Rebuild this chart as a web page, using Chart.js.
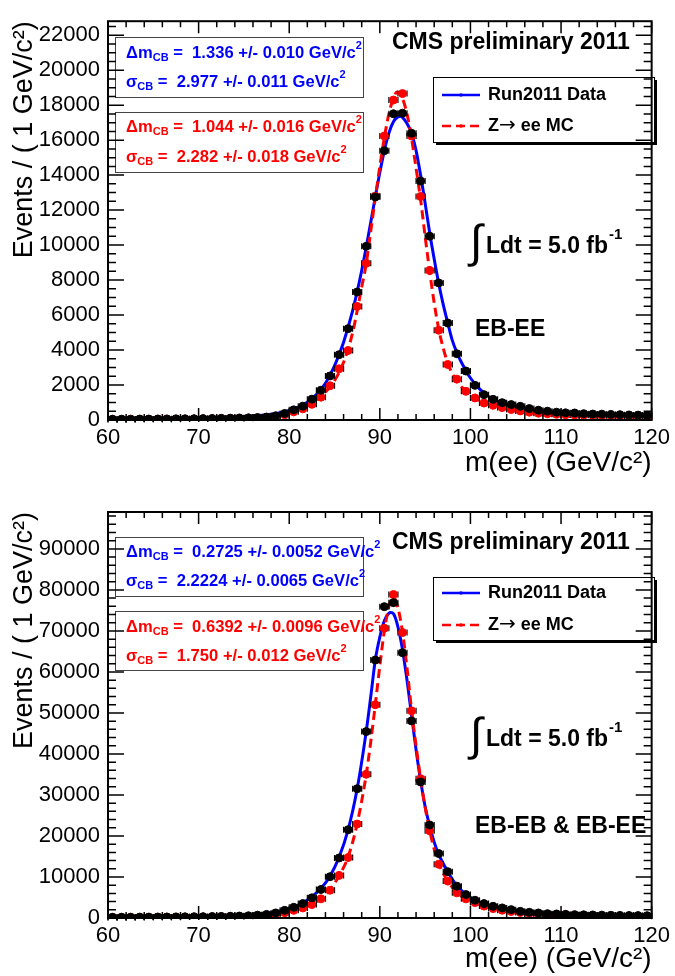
<!DOCTYPE html>
<html>
<head>
<meta charset="utf-8">
<script src="https://cdn.jsdelivr.net/npm/chart.js@4.4.0/dist/chart.umd.min.js"></script>
<style>
  html, body { margin: 0; padding: 0; background: #fff; }
  .panel { position: absolute; left: 0; width: 675px; height: 488px; }
  #top { top: 0; }
  #bottom { top: 488px; }
</style>
</head>
<body>
<div class="panel" id="top"><canvas id="chartEBEE" width="675" height="488"></canvas></div>
<div class="panel" id="bottom"><canvas id="chartAll" width="675" height="488"></canvas></div>
<script>
/*
 * data (1 GeV bins)
 */
const massBins = [
	60.5, 61.5, 62.5, 63.5, 64.5, 65.5, 66.5, 67.5, 68.5, 69.5,
	70.5, 71.5, 72.5, 73.5, 74.5, 75.5, 76.5, 77.5, 78.5, 79.5,
	80.5, 81.5, 82.5, 83.5, 84.5, 85.5, 86.5, 87.5, 88.5, 89.5,
	90.5, 91.5, 92.5, 93.5, 94.5, 95.5, 96.5, 97.5, 98.5, 99.5,
	100.5, 101.5, 102.5, 103.5, 104.5, 105.5, 106.5, 107.5, 108.5, 109.5,
	110.5, 111.5, 112.5, 113.5, 114.5, 115.5, 116.5, 117.5, 118.5, 119.5
];
const xTickValues = [60, 70, 80, 90, 100, 110, 120];

// EB-EE
const ebeeData = [
	45, 48, 50, 52, 55, 58, 62, 66, 70, 75,
	80, 88, 95, 105, 115, 125, 140, 168, 240, 375,
	580, 790, 1190, 1700, 2520, 3734, 5224, 7318, 9927, 12749,
	15397, 17508, 17542, 16389, 13662, 10510, 7839, 5543, 3790, 2800,
	1980, 1450, 1180, 990, 880, 780, 653, 560, 504, 448,
	410, 400, 360, 340, 335, 320, 305, 290, 280, 270
];
const ebeeMC = [
	30, 32, 34, 36, 38, 41, 44, 48, 52, 57,
	62, 68, 75, 83, 92, 105, 120, 150, 210, 300,
	465, 640, 896, 1306, 1960, 2929, 3975, 6495, 8958, 12800,
	16237, 18292, 18662, 16237, 12783, 8550, 5134, 3175, 2335, 1640,
	1260, 970, 840, 710, 600, 520, 450, 390, 360, 330,
	300, 290, 280, 270, 260, 250, 240, 230, 225, 220
];
const ebeeFitDataX = [60, 64, 68, 72, 75, 77, 78, 79, 80, 81, 82, 83, 84, 85, 86, 87, 88, 89, 89.5, 90, 90.5, 91, 91.5, 92, 92.3, 92.5, 93, 93.5, 94, 94.5, 95, 95.5, 96, 96.5, 97, 97.5, 98, 98.5, 99, 100, 101, 102, 103, 104, 106, 108, 110, 113, 116, 120];
const ebeeFitDataY = [60, 75, 100, 140, 200, 270, 330, 420, 550, 730, 1020, 1450, 2100, 3100, 4450, 6250, 8550, 11300, 12750, 14150, 15400, 16400, 17050, 17330, 17360, 17300, 16950, 16400, 15400, 14000, 12400, 10700, 9200, 7800, 6600, 5550, 4550, 3850, 3300, 2400, 1780, 1350, 1060, 850, 600, 460, 380, 300, 240, 190];
const ebeeFitMCX = [60, 64, 68, 72, 75, 77, 78, 79, 80, 81, 82, 83, 84, 85, 86, 87, 88, 88.5, 89, 89.5, 90, 90.5, 91, 91.5, 91.9, 92.3, 92.5, 93, 93.5, 94, 94.5, 95, 95.5, 96, 96.5, 97, 97.5, 98, 98.5, 99, 99.5, 100.5, 101.5, 102.5, 104, 106, 108, 110, 113, 116, 120];
const ebeeFitMCY = [45, 55, 75, 105, 150, 200, 245, 310, 420, 580, 810, 1150, 1600, 2250, 3300, 5000, 7600, 8950, 10800, 12700, 14500, 16150, 17500, 18400, 18750, 18600, 18400, 17500, 16100, 14400, 12600, 10500, 8500, 6700, 5200, 4100, 3250, 2650, 2250, 1900, 1650, 1260, 1000, 820, 640, 500, 400, 330, 270, 220, 180];
const ebeeYTicks = [0, 2000, 4000, 6000, 8000, 10000, 12000, 14000, 16000, 18000, 20000, 22000];

// EB-EB & EB-EE
const allData = [
	180, 190, 200, 210, 220, 235, 250, 265, 285, 305,
	330, 355, 385, 420, 470, 540, 700, 880, 1230, 1870,
	2600, 3510, 4910, 6950, 10070, 14640, 21520, 31520, 45450, 62900,
	75920, 76900, 64690, 48060, 33170, 22680, 15720, 11300, 7770, 5720,
	4330, 3510, 2850, 2460, 2040, 1620, 1380, 1230, 1060, 980,
	900, 820, 780, 740, 700, 660, 630, 600, 580, 560
];
const allMC = [
	130, 138, 146, 155, 165, 176, 188, 200, 215, 230,
	250, 270, 295, 325, 360, 410, 520, 650, 900, 1300,
	1870, 2460, 3270, 4670, 6780, 10390, 14740, 22920, 35040, 52000,
	70660, 78870, 69600, 50520, 33980, 21280, 13100, 9000, 6140, 4670,
	3760, 2900, 2300, 1900, 1600, 1350, 1150, 1000, 880, 800,
	740, 690, 640, 600, 570, 540, 510, 490, 470, 450
];
const allFitDataX = [60, 65, 70, 74, 76, 77.5, 78.5, 79.5, 80.5, 81.5, 82.5, 83.5, 84.5, 85.5, 86.5, 87.5, 88.5, 89, 89.5, 90, 90.5, 91, 91.2, 91.5, 92, 92.5, 93, 93.5, 94, 94.5, 95, 95.5, 96, 96.5, 97.5, 98.5, 99.5, 100.5, 101.5, 102.5, 104, 106, 108, 110, 113, 116, 120];
const allFitDataY = [160, 220, 330, 550, 800, 1150, 1500, 2000, 2700, 3700, 5200, 7200, 10200, 14800, 21500, 31500, 45500, 54000, 62900, 68500, 72500, 74300, 74500, 74200, 71000, 65500, 58000, 49500, 41000, 33500, 27200, 22500, 18500, 15500, 11300, 7900, 5800, 4400, 3500, 2850, 2150, 1550, 1200, 950, 720, 580, 450];
const allFitMCX = [60, 65, 70, 74, 76, 77.5, 78.5, 79.5, 80.5, 81.5, 82.5, 83.5, 84.5, 85.5, 86.5, 87.5, 88.5, 89, 89.5, 90, 90.5, 91, 91.4, 91.8, 92.5, 93, 93.5, 94, 94.5, 95, 95.5, 96, 96.5, 97.5, 98.5, 99.5, 100.5, 101.5, 102.5, 104, 106, 108, 110, 113, 116, 120];
const allFitMCY = [120, 170, 250, 360, 480, 650, 900, 1300, 1870, 2500, 3350, 4750, 6900, 10300, 14900, 23000, 35000, 43000, 52000, 61500, 70000, 76000, 78000, 77200, 69800, 61000, 50800, 42000, 34000, 27000, 21300, 16800, 13300, 9000, 6200, 4700, 3750, 2950, 2350, 1800, 1300, 1000, 800, 620, 520, 430];
const allYTicks = [0, 10000, 20000, 30000, 40000, 50000, 60000, 70000, 80000, 90000];

const FONT = '"Liberation Sans", Arial, Helvetica, sans-serif';
Chart.defaults.font.family = FONT;
Chart.defaults.color = '#000';

const toPoints = (xs, ys) => xs.map((x, i) => ({ x: x, y: ys[i] }));

// 텍스트 + 첨자 (sub / sup), 화살표는 다른 폰트
function richText(ctx, parts, x, y, size) {
	let cx = x;
	parts.forEach(p => {
		const fs = (p.sub || p.sup) ? Math.round(size * 0.65) : size;
		ctx.font = p.arrow ? (size + 2) + 'px "DejaVu Sans", sans-serif' : 'bold ' + fs + 'px ' + FONT;
		const dy = p.sub ? size * 0.32 : (p.sup ? -size * 0.4 : 0);
		ctx.fillText(p.t, cx, y + dy);
		cx += ctx.measureText(p.t).width;
	});
	return cx;
}

/*
 * bin width error bars, drawn under each marker set
 */
const errorBars = {
	id: 'errorBars',
	beforeDatasetDraw(chart, args) {
		const ds = chart.data.datasets[args.index];
		if (!ds.binWidth) return;
		const xs = chart.scales.x, ys = chart.scales.y, ctx = chart.ctx;
		ctx.save();
		ctx.strokeStyle = '#000';
		ctx.lineWidth = 1.2;
		ds.data.forEach(p => {
			const x1 = xs.getPixelForValue(p.x - ds.binWidth / 2);
			const x2 = xs.getPixelForValue(p.x + ds.binWidth / 2);
			const y = ys.getPixelForValue(p.y);
			ctx.beginPath();
			ctx.moveTo(x1, y); ctx.lineTo(x2, y);
			ctx.moveTo(x1, y - 3); ctx.lineTo(x1, y + 3);
			ctx.moveTo(x2, y - 3); ctx.lineTo(x2, y + 3);
			ctx.stroke();
		});
		ctx.restore();
	}
};

/*
 * fit boxes, legend, labels
 */
const rootText = {
	id: 'rootText',
	afterDatasetsDraw(chart, args, o) {
		const ctx = chart.ctx;
		ctx.save();
		ctx.textBaseline = 'middle';
		ctx.textAlign = 'left';

		o.boxes.forEach(b => {
			ctx.fillStyle = '#fff';
			ctx.fillRect(b.x, b.y, b.w, b.h);
			ctx.strokeStyle = '#444';
			ctx.lineWidth = 1;
			ctx.strokeRect(b.x + 0.5, b.y + 0.5, b.w, b.h);
			ctx.fillStyle = b.color;
			b.lines.forEach((l, i) => richText(ctx, l, b.x + 11, b.rows[i], 16.6));
		});

		ctx.fillStyle = '#000';
		ctx.font = 'bold 23px ' + FONT;
		ctx.fillText('CMS preliminary 2011', 392, o.cmsY);

		// legend
		const L = o.legend;
		ctx.fillStyle = '#000';
		ctx.fillRect(L.x + 3, L.y + 3, L.w, L.h);
		ctx.fillStyle = '#fff';
		ctx.fillRect(L.x, L.y, L.w, L.h);
		ctx.strokeStyle = '#000';
		ctx.lineWidth = 1;
		ctx.strokeRect(L.x + 0.5, L.y + 0.5, L.w, L.h);
		chart.data.datasets.filter(d => d.legendRow !== undefined).forEach(d => {
			const y = L.rows[d.legendRow];
			ctx.strokeStyle = d.borderColor;
			ctx.lineWidth = 2.5;
			ctx.setLineDash(d.borderDash || []);
			ctx.beginPath();
			ctx.moveTo(L.x + 9, y);
			ctx.lineTo(L.x + 47, y);
			ctx.stroke();
			ctx.setLineDash([]);
			ctx.fillStyle = d.borderColor;
			ctx.beginPath();
			ctx.arc(L.x + 28, y, 1.8, 0, Math.PI * 2);
			ctx.fill();
			ctx.fillStyle = '#000';
			richText(ctx, d.legendParts, L.x + 55, y, 18);
		});

		// luminosity
		ctx.fillStyle = '#000';
		ctx.font = '46px ' + FONT;
		ctx.fillText('\u222B', 470, o.lumiY - 1);
		const end = richText(ctx, [{ t: 'Ldt = 5.0 fb' }], 486, o.lumiY + 2, 23);
		ctx.font = 'bold 15px ' + FONT;
		ctx.fillText('-1', end + 1, o.lumiY - 10);

		ctx.font = 'bold 23px ' + FONT;
		ctx.fillText(o.region, 475, o.regionY);
		ctx.restore();
	}
};

/*
 * ROOT style frame with inner ticks
 */
const rootFrame = {
	id: 'rootFrame',
	afterDatasetsDraw(chart, args, o) {
		const { ctx, chartArea: a, scales: { x, y } } = chart;
		ctx.save();
		ctx.strokeStyle = '#000';
		ctx.lineWidth = 1.5;
		ctx.beginPath();
		for (let v = 60; v <= 120; v += 2) {
			const px = x.getPixelForValue(v);
			const len = v % 10 === 0 ? 12 : 6;
			ctx.moveTo(px, a.bottom); ctx.lineTo(px, a.bottom - len);
			ctx.moveTo(px, a.top); ctx.lineTo(px, a.top + len);
		}
		for (let v = 0; v <= y.max; v += o.yMinor) {
			const py = y.getPixelForValue(v);
			const len = v % o.yMajor === 0 ? 16 : 8;
			ctx.moveTo(a.left, py); ctx.lineTo(a.left + len, py);
			ctx.moveTo(a.right, py); ctx.lineTo(a.right - len, py);
		}
		ctx.stroke();
		ctx.lineWidth = 2;
		ctx.strokeRect(a.left, a.top, a.right - a.left, a.bottom - a.top);
		ctx.restore();
	}
};

function makeChart(id, p) {
	return new Chart(document.getElementById(id), {
		type: 'scatter',
		data: {
			datasets: [{
				data: toPoints(massBins, p.data),
				pointRadius: 4,
				pointBackgroundColor: '#000',
				pointBorderColor: '#000',
				binWidth: 1,
				order: 1
			}, {
				data: toPoints(massBins, p.mc),
				pointRadius: 4,
				pointBackgroundColor: '#ff0000',
				pointBorderColor: '#ff0000',
				binWidth: 1,
				order: 2
			}, {
				label: 'Z\u2192 ee MC',
				legendRow: 1,
				legendParts: [{ t: 'Z' }, { t: '\u2192', arrow: true }, { t: ' ee MC' }],
				data: toPoints(p.fitMCX, p.fitMCY),
				showLine: true,
				borderColor: '#ff0000',
				borderDash: [9, 5],
				borderWidth: 3,
				pointRadius: 0,
				cubicInterpolationMode: 'monotone',
				order: 3
			}, {
				label: 'Run2011 Data',
				legendRow: 0,
				legendParts: [{ t: 'Run2011 Data' }],
				data: toPoints(p.fitDataX, p.fitDataY),
				showLine: true,
				borderColor: '#0000ff',
				borderWidth: 3,
				pointRadius: 0,
				cubicInterpolationMode: 'monotone',
				order: 4
			}]
		},
		options: {
			responsive: false,
			animation: false,
			events: [],
			layout: { padding: { top: p.padTop, right: 21, left: 0, bottom: 0 } },
			plugins: {
				legend: { display: false },
				tooltip: { enabled: false },
				rootText: p.text,
				rootFrame: { yMajor: p.yMajor, yMinor: p.yMinor }
			},
			scales: {
				x: {
					type: 'linear',
					min: 60,
					max: 120,
					afterBuildTicks: s => { s.ticks = xTickValues.map(v => ({ value: v })); },
					afterFit: s => { s.height = p.xHeight; },
					grid: { display: false, drawTicks: false },
					border: { display: false },
					ticks: { font: { size: 22 }, color: '#000', padding: 5, maxRotation: 0, autoSkip: false, callback: v => String(v) },
					title: {
						display: true,
						text: 'm(ee) (GeV/c\u00B2)',
						align: 'end',
						color: '#000',
						font: { size: 28 },
						padding: { top: 0, bottom: p.xTitlePad }
					}
				},
				y: {
					min: 0,
					max: p.yMax,
					afterBuildTicks: s => { s.ticks = p.yTicks.map(v => ({ value: v })); },
					afterFit: s => { s.width = 108; },
					grid: { display: false, drawTicks: false },
					border: { display: false },
					ticks: { font: { size: 22 }, color: '#000', padding: 8, callback: v => String(v) },
					title: {
						display: true,
						text: 'Events / ( 1 GeV/c\u00B2)',
						align: 'end',
						color: '#000',
						font: { size: 27 },
						padding: { top: 8, bottom: 0 }
					}
				}
			}
		},
		plugins: [errorBars, rootText, rootFrame]
	});
}

makeChart('chartEBEE', {
	data: ebeeData, mc: ebeeMC,
	fitDataX: ebeeFitDataX, fitDataY: ebeeFitDataY,
	fitMCX: ebeeFitMCX, fitMCY: ebeeFitMCY,
	yMax: 22800, yTicks: ebeeYTicks, yMajor: 2000, yMinor: 500,
	padTop: 13, xHeight: 68, xTitlePad: 8,
	text: {
		boxes: [{
			x: 115, y: 37, w: 248, h: 60, color: '#0000ff', rows: [53, 82],
			lines: [
				[{ t: '\u0394m' }, { t: 'CB', sub: true }, { t: ' =  1.336 +/- 0.010 GeV/c' }, { t: '2', sup: true }],
				[{ t: '\u03C3' }, { t: 'CB', sub: true }, { t: ' =  2.977 +/- 0.011 GeV/c' }, { t: '2', sup: true }]
			]
		}, {
			x: 115, y: 112, w: 248, h: 60, color: '#ff0000', rows: [127, 157],
			lines: [
				[{ t: '\u0394m' }, { t: 'CB', sub: true }, { t: ' =  1.044 +/- 0.016 GeV/c' }, { t: '2', sup: true }],
				[{ t: '\u03C3' }, { t: 'CB', sub: true }, { t: ' =  2.282 +/- 0.018 GeV/c' }, { t: '2', sup: true }]
			]
		}],
		cmsY: 43,
		legend: { x: 433, y: 77, w: 221, h: 65, rows: [95, 126] },
		lumiY: 245,
		region: 'EB-EE', regionY: 330
	}
});

makeChart('chartAll', {
	data: allData, mc: allMC,
	fitDataX: allFitDataX, fitDataY: allFitDataY,
	fitMCX: allFitMCX, fitMCY: allFitMCY,
	yMax: 99000, yTicks: allYTicks, yMajor: 10000, yMinor: 2000,
	padTop: 24, xHeight: 58, xTitlePad: 0,
	text: {
		boxes: [{
			x: 115, y: 49, w: 248, h: 59, color: '#0000ff', rows: [64, 93],
			lines: [
				[{ t: '\u0394m' }, { t: 'CB', sub: true }, { t: ' =  0.2725 +/- 0.0052 GeV/c' }, { t: '2', sup: true }],
				[{ t: '\u03C3' }, { t: 'CB', sub: true }, { t: ' =  2.2224 +/- 0.0065 GeV/c' }, { t: '2', sup: true }]
			]
		}, {
			x: 115, y: 123, w: 248, h: 59, color: '#ff0000', rows: [139, 168],
			lines: [
				[{ t: '\u0394m' }, { t: 'CB', sub: true }, { t: ' =  0.6392 +/- 0.0096 GeV/c' }, { t: '2', sup: true }],
				[{ t: '\u03C3' }, { t: 'CB', sub: true }, { t: ' =  1.750 +/- 0.012 GeV/c' }, { t: '2', sup: true }]
			]
		}],
		cmsY: 55,
		legend: { x: 433, y: 89, w: 221, h: 63, rows: [105, 137] },
		lumiY: 250,
		region: 'EB-EB & EB-EE', regionY: 339
	}
});
</script>
</body>
</html>
